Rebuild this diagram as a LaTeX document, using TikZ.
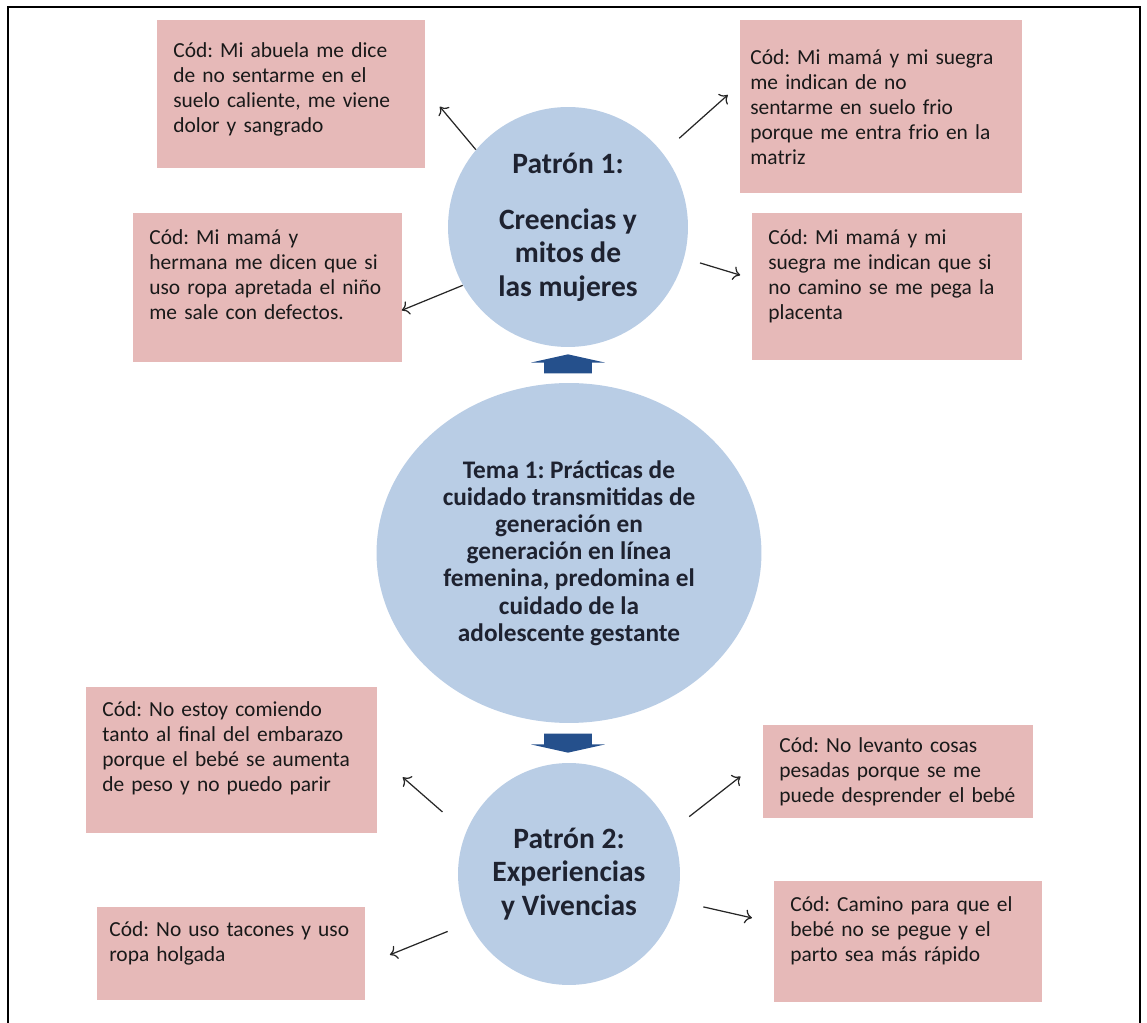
\documentclass[tikz,border=0pt]{standalone}
\usepackage{fontspec}
\setmainfont{Carlito}
\frenchspacing
\usepackage{xcolor}
\usepackage{tikz}
\usetikzlibrary{arrows.meta,shapes.geometric,shapes.arrows}

\definecolor{codfill}{HTML}{E6B9B8}
\definecolor{circfill}{HTML}{B9CDE5}
\definecolor{bluearrow}{HTML}{25508C}
\definecolor{circtext}{HTML}{1E2230}

\begin{document}
\begin{tikzpicture}[
    x=0.02cm, y=-0.02cm,
    cod/.style={rectangle, fill=codfill, anchor=north west, align=left, inner xsep=0.32cm, inner ysep=0.2cm, text=black!90, font=\fontsize{12.2}{14.2}\selectfont},
    patron/.style={circle, fill=circfill, minimum size=#1, inner sep=0pt, align=center, text=circtext, font=\fontsize{16.8}{19}\selectfont\bfseries},
    tema/.style={ellipse, fill=circfill, minimum width=7.7cm, minimum height=6.8cm, inner sep=0pt, align=center, text=circtext, font=\fontsize{14.4}{15.5}\selectfont\bfseries},
    bigarrow/.style={single arrow, fill=bluearrow, minimum height=0.38cm, minimum width=1.46cm, single arrow head extend=0.26cm, single arrow tip angle=155, inner xsep=0.47cm, inner ysep=0pt},
    arrow/.style={-{To[length=4pt,width=8pt]}, line width=0.7pt, draw=black!85}
]
    \useasboundingbox (0,0) rectangle (1147,1023);

    % Frame
    \draw[line width=1.1pt] (8,1023) -- (8,7) -- (1140,7) -- (1140,1023);

    % Tema 1
    \node[tema] (tema) at (569,553) {Tema 1: Prácticas de\\cuidado transmitidas de\\generación en\\generación en línea\\femenina, predomina el\\cuidado de la\\adolescente gestante};

    % Patrón 1
    \node[patron=4.8cm] (patron1) at (568,227) {Patrón 1:\\[0.45cm]Creencias y\\mitos de\\las mujeres};

    % Patrón 2
    \node[patron=4.44cm] (patron2) at (569,874) {Patrón 2:\\Experiencias\\y Vivencias};

    % Block arrows
    \node[bigarrow, shape border rotate=90] (subida) at (568,366.5) {};
    \node[bigarrow, shape border rotate=270] (bajada) at (568,740.5) {};

    % Codes of Patrón 1
    \node[cod, text width=4.72cm, text height=0.54cm, text depth=2.02cm] (abuela) at (157,20) {Cód: Mi abuela me dice\\de no sentarme en el\\suelo caliente, me viene\\dolor y sangrado};
    \node[cod, inner xsep=0.2cm, text width=5.24cm, text height=0.68cm, text depth=2.38cm] (frio) at (740,20) {Cód: Mi mamá y mi suegra\\me indican de no\\sentarme en suelo frio\\porque me entra frio en la\\matriz};
    \node[cod, text width=4.74cm, text height=0.42cm, text depth=2.16cm] (ropa) at (133,213) {Cód: Mi mamá y\\hermana me dicen que si\\uso ropa apretada el niño\\me sale con defectos.};
    \node[cod, text width=4.76cm, text height=0.42cm, text depth=2.12cm] (placenta) at (752,213) {Cód: Mi mamá y mi\\suegra me indican que si\\no camino se me pega la\\placenta};

    % Codes of Patrón 2
    \node[cod, text width=5.18cm, text height=0.38cm, text depth=2.14cm] (comida) at (86,687) {Cód: No estoy comiendo\\tanto al final del embarazo\\porque el bebé se aumenta\\de peso y no puedo parir};
    \node[cod, text width=4.76cm, text height=0.34cm, text depth=1.12cm] (cosas) at (763,725) {Cód: No levanto cosas\\pesadas porque se me\\puede desprender el bebé};
    \node[cod, inner xsep=0.24cm, text width=4.88cm, text height=0.38cm, text depth=1.08cm] (tacones) at (97,907) {Cód: No uso tacones y uso\\ropa holgada};
    \node[cod, text width=4.72cm, text height=0.40cm, text depth=1.62cm] (camino) at (774,881) {Cód: Camino para que el\\bebé no se pegue y el\\parto sea más rápido};

    % Arrows
    \draw[arrow] (patron1.140) -- ++(-36,-43);
    \draw[arrow, shorten <=0.44cm] (patron1.38) -- ++(65,-58);
    \draw[arrow] (patron1.209) -- ++(-61,25);
    \draw[arrow, shorten <=0.33cm] (patron1.345) -- ++(56,17);
    \draw[arrow, shorten <=0.62cm] (patron2.158) -- ++(-63,-55);
    \draw[arrow, shorten <=0.45cm] (patron2.23) -- ++(69,-54);
    \draw[arrow, shorten <=0.46cm] (patron2.206) -- ++(-79,32);
    \draw[arrow, shorten <=0.54cm] (patron2.346) -- ++(75,17);
\end{tikzpicture}
\end{document}
